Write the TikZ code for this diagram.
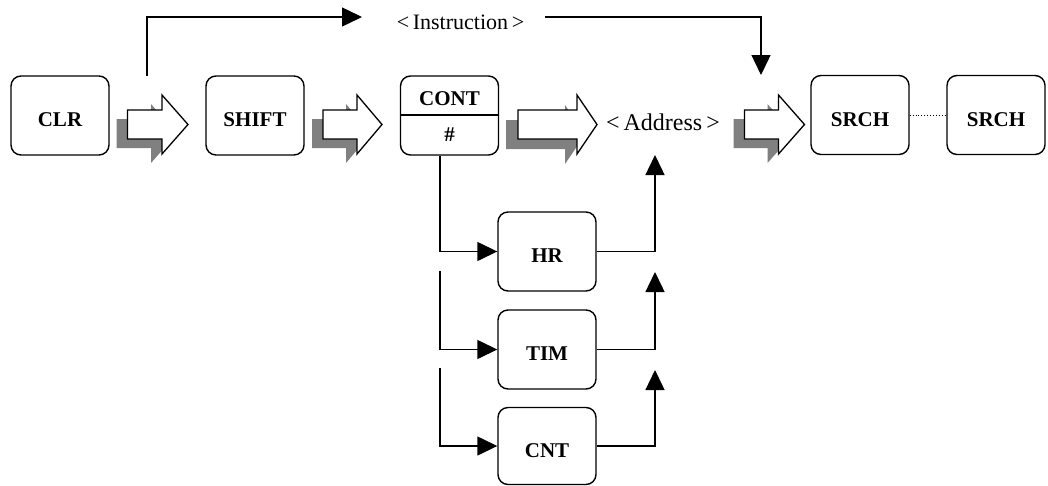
\documentclass[tikz,border=0pt]{standalone}
\usepackage{fontspec}
\setmainfont{Liberation Serif}
\usetikzlibrary{arrows.meta}
\newcommand\BlkArrow[4]{% #1 shaft left, #2 head base, #3 tip, #4 shadow shift
  \fill[black!50,shift={#4}] (#1,110) -- (#2,110) -- (#2,95) -- (#3,124.5) -- (#2,154) -- (#2,139) -- (#1,139) -- cycle;
  \filldraw[fill=white,draw=black,line width=1.3pt] (#1,110) -- (#2,110) -- (#2,95) -- (#3,124.5) -- (#2,154) -- (#2,139) -- (#1,139) -- cycle;
}
\begin{document}
\begin{tikzpicture}[x=1pt,y=-1pt,line width=1.4pt,
  key/.style={draw,rounded corners=10pt,minimum width=98pt,minimum height=79pt,inner sep=0pt,
    text height=22pt,text depth=0pt,font=\fontsize{21}{25}\selectfont\bfseries},
  keytext/.style={inner sep=0pt,font=\fontsize{21}{25}\selectfont\bfseries},
  lbl/.style={inner sep=0pt,font=\fontsize{22}{26}\selectfont},
  conn/.style={line width=1.4pt,-{Triangle[length=20pt,width=19pt]}},
]
\useasboundingbox (0,0) rectangle (1048,485);

% keys
\node[key] (clr) at (60,115.5) {CLR};
\node[key] (shift) at (255,115.5) {SHIFT};
\node[key,text height=0pt] (cont) at (449.5,115.5) {};
\node[keytext] (contT) at (449.5,99) {CONT};
\node[keytext] (contH) at (449.5,135) {\#};
\draw (cont.west |- 0,115) -- (cont.east |- 0,115);
\node[key] (srch1) at (860,115) {SRCH};
\node[key] (srch2) at (996,115) {SRCH};
\node[key] (hr) at (547,251.5) {HR};
\node[key] (tim) at (547,349.5) {TIM};
\node[key,minimum height=77pt] (cnt) at (547,446) {CNT};

% labels
\node[lbl] (instr) at (460.5,22) {<\,Instruction\,>};
\node[lbl,font=\fontsize{24}{28}\selectfont] (addr) at (663,122) {<\,Address\,>};

% block arrows
\BlkArrow{127.5}{162}{188}{(-11,9)}
\BlkArrow{323}{357}{382}{(-11,9)}
\BlkArrow{518}{577}{597}{(-12,10)}
\BlkArrow{744.5}{778.5}{804.5}{(-11,9)}

% dotted link
\draw[line width=0.9pt,dotted] (srch1.east) -- (srch2.west);

% instruction path
\coordinate (i0) at (147,76);
\coordinate (i1) at (362,17);
\coordinate (i2) at (545,17);
\coordinate (i3) at (761,75);
\draw[conn] (i0) |- (i1);
\draw[conn] (i2) -| (i3);

% branches from CONT
\draw[conn] ([xshift=-9.5pt]cont.south) |- (hr.west);
\coordinate (t0) at (440,271);
\coordinate (c0) at (440,368);
\draw[conn] (t0) |- (tim.west);
\draw[conn] (c0) |- (cnt.west);

% returns to address
\coordinate (a1) at (655,155);
\coordinate (a2) at (655,272);
\coordinate (a3) at (655,370);
\draw[conn] (hr.east) -| (a1);
\draw[conn] (tim.east) -| (a2);
\draw[conn] (cnt.east) -| (a3);
\end{tikzpicture}
\end{document}
